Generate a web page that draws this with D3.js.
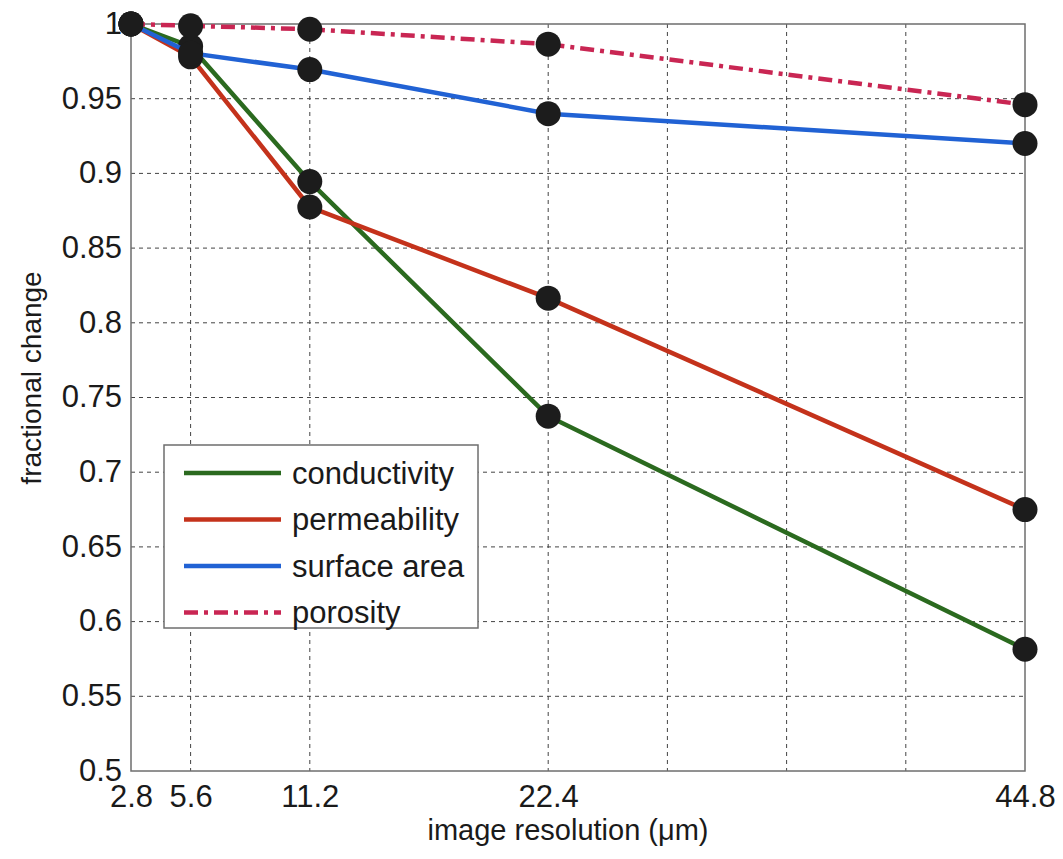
<!DOCTYPE html>
<html lang="en">
<head>
    <meta charset="UTF-8">
    <title>Fractional change vs image resolution</title>
    <style>
        body {
            margin: 0;
            background-color: white;
            font-family: 'Liberation Sans', Arial, sans-serif;
        }
        svg text {
            fill: #1a1a1a;
        }
    </style>
</head>
<body>
    <div id="chart"></div>

    <script src="https://d3js.org/d3.v7.min.js"></script>
    <script>
        // data
        var resolution = [2.8, 5.6, 11.2, 22.4, 44.8];
        var conductivity = [1, 0.985, 0.8945, 0.7375, 0.5815];
        var permeability = [1, 0.978, 0.8775, 0.8165, 0.675];
        var surfaceArea = [1, 0.9805, 0.9695, 0.940, 0.920];
        var porosity = [1, 0.9988, 0.9965, 0.9865, 0.946];
        var seriesNames = ["conductivity", "permeability", "surface area", "porosity"];

        var xTicks = [2.8, 5.6, 11.2, 22.4, 28, 33.6, 39.2, 44.8];
        var xTickLabels = ["2.8", "5.6", "11.2", "22.4", "", "", "", "44.8"];
        var yTicks = [0.5, 0.55, 0.6, 0.65, 0.7, 0.75, 0.8, 0.85, 0.9, 0.95, 1];

        var w = 1063, h = 859;
        var margin = {top: 24, right: 38, bottom: 88, left: 131};
        var iw = w - margin.left - margin.right;
        var ih = h - margin.top - margin.bottom;

        var svg = d3.select("#chart")
            .append("svg")
            .attr("width", w)
            .attr("height", h);

        var g = svg.append("g")
            .attr("transform", "translate(" + margin.left + "," + margin.top + ")");

        var x = d3.scaleLinear().domain([2.8, 44.8]).range([0, iw]);
        var y = d3.scaleLinear().domain([0.5, 1]).range([ih, 0]);

        // grid lines (dashed)
        g.append("g")
            .selectAll("line.vgrid")
            .data(xTicks.slice(1, -1))
            .enter()
            .append("line")
            .attr("x1", d => x(d)).attr("x2", d => x(d))
            .attr("y1", 0).attr("y2", ih)
            .attr("stroke", "#444")
            .attr("stroke-width", 1)
            .attr("stroke-dasharray", "4,4");

        g.append("g")
            .selectAll("line.hgrid")
            .data(yTicks.slice(1, -1))
            .enter()
            .append("line")
            .attr("x1", 0).attr("x2", iw)
            .attr("y1", d => y(d)).attr("y2", d => y(d))
            .attr("stroke", "#444")
            .attr("stroke-width", 1)
            .attr("stroke-dasharray", "4,4");

        // axes
        var xAxis = d3.axisBottom(x)
            .tickValues(xTicks)
            .tickSize(0)
            .tickPadding(14)
            .tickFormat((d, i) => xTickLabels[i]);
        var yAxis = d3.axisLeft(y)
            .tickValues(yTicks)
            .tickSize(0)
            .tickPadding(9)
            .tickFormat(d => d3.format("")(+d.toFixed(2)));

        var gx = g.append("g")
            .attr("transform", "translate(0," + ih + ")")
            .call(xAxis);
        var gy = g.append("g").call(yAxis);

        [gx, gy].forEach(function(a) {
            a.select(".domain").remove();
            a.selectAll("text")
                .attr("font-family", "'Liberation Sans', Arial, sans-serif")
                .attr("font-size", 31)
                .attr("fill", "#1a1a1a");
        });
        gx.selectAll("text").attr("dy", "0.72em");
        gy.selectAll("text").attr("dy", "0.3em");

        // plot box
        g.append("rect")
            .attr("x", 0).attr("y", 0)
            .attr("width", iw).attr("height", ih)
            .attr("fill", "none")
            .attr("stroke", "#6e6e6e")
            .attr("stroke-width", 1.5);

        // series
        var colors = ["#2b6a1f", "#c4321b", "#2162d4", "#c92653"];
        var dashes = [null, null, null, "14,6,4,6"];
        var values = [conductivity, permeability, surfaceArea, porosity];

        var line = d3.line()
            .x(d => x(d[0]))
            .y(d => y(d[1]));

        values.forEach(function(vals, i) {
            var pts = resolution.map((r, j) => [r, vals[j]]);
            g.append("path")
                .datum(pts)
                .attr("d", line)
                .attr("fill", "none")
                .attr("stroke", colors[i])
                .attr("stroke-width", 4.5)
                .attr("stroke-dasharray", dashes[i]);
            g.selectAll(null)
                .data(pts)
                .enter()
                .append("circle")
                .attr("cx", d => x(d[0]))
                .attr("cy", d => y(d[1]))
                .attr("r", 12.5)
                .attr("fill", "#1c1c1c");
        });

        // legend
        var legend = svg.append("g").attr("transform", "translate(164,445)");
        legend.append("rect")
            .attr("width", 314).attr("height", 183)
            .attr("fill", "white")
            .attr("stroke", "#6e6e6e")
            .attr("stroke-width", 1.5);
        seriesNames.forEach(function(name, i) {
            var ly = 28 + i * 46.5;
            legend.append("line")
                .attr("x1", 20).attr("x2", 117)
                .attr("y1", ly).attr("y2", ly)
                .attr("stroke", colors[i])
                .attr("stroke-width", 4.5)
                .attr("stroke-dasharray", dashes[i]);
            legend.append("text")
                .attr("x", 128).attr("y", ly)
                .attr("dy", "0.35em")
                .attr("font-size", 31)
                .text(name);
        });

        // axis titles
        svg.append("text")
            .attr("x", 568)
            .attr("y", 840)
            .attr("text-anchor", "middle")
            .attr("font-size", 29)
            .text("image resolution (\u03bcm)");

        svg.append("text")
            .attr("transform", "translate(41,378) rotate(-90)")
            .attr("text-anchor", "middle")
            .attr("font-size", 28)
            .text("fractional change");
    </script>
</body>
</html>
